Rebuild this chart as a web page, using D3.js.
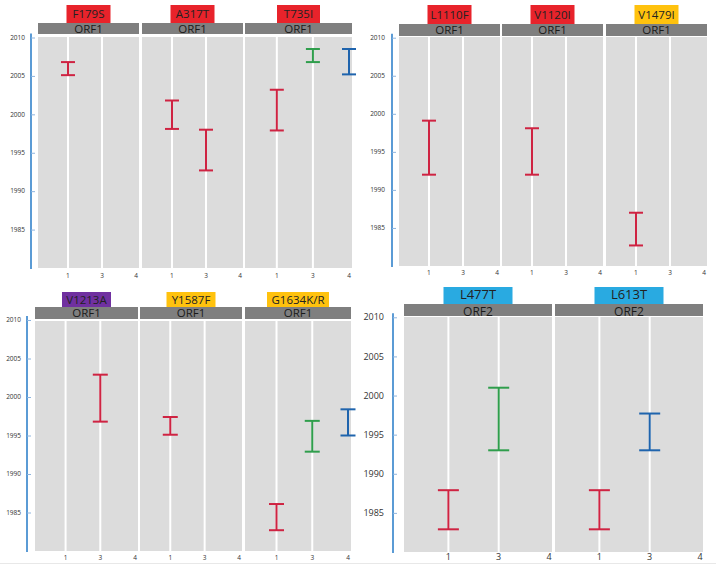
<!DOCTYPE html>
<html><head><meta charset="utf-8">
<script src="https://cdn.jsdelivr.net/npm/d3@7"></script>
<style>html,body{margin:0;padding:0;background:#fff;}svg{display:block;font-family:"Open Sans","Liberation Sans",sans-serif;}</style>
</head><body>
<svg id="chart" width="716" height="568"></svg>
<script>
// ---- data ----
const categories = ["1", "3", "4"];
const yTicks = [1985, 1990, 1995, 2000, 2005, 2010];
const yDomain = [1980, 2010];
const mutations = ["F179S", "A317T", "T735I", "L1110F", "V1120I", "V1479I", "V1213A", "Y1587F", "G1634K/R", "L477T", "L613T"];
const orfs = ["ORF1", "ORF1", "ORF1", "ORF1", "ORF1", "ORF1", "ORF1", "ORF1", "ORF1", "ORF2", "ORF2"];
const badgeKinds = ["red", "red", "red", "red", "red", "yellow", "purple", "yellow", "yellow", "blue", "blue"];
const panelGroups = [["F179S", "A317T", "T735I"], ["L1110F", "V1120I", "V1479I"], ["V1213A", "Y1587F", "G1634K/R"], ["L477T", "L613T"]];
// intervals: mutation, category, series, low, high (years)
const intMutation = ["F179S", "A317T", "A317T", "T735I", "T735I", "T735I", "L1110F", "V1120I", "V1479I", "V1213A", "Y1587F", "G1634K/R", "G1634K/R", "G1634K/R", "L477T", "L477T", "L613T", "L613T"];
const intCategory = ["1", "1", "3", "1", "3", "4", "1", "1", "1", "3", "1", "1", "3", "4", "1", "3", "1", "3"];
const intSeries = ["a", "a", "a", "a", "b", "c", "a", "a", "a", "a", "a", "a", "b", "c", "a", "b", "a", "c"];
const intLow = [2005.1, 1998.1, 1992.7, 1997.9, 2006.8, 2005.2, 1992.0, 1992.0, 1982.7, 1996.8, 1995.1, 1982.7, 1992.9, 1995.0, 1982.9, 1993.0, 1982.9, 1993.0];
const intHigh = [2006.8, 2001.8, 1998.0, 2003.2, 2008.5, 2008.5, 1999.1, 1998.1, 1987.0, 2002.9, 1997.4, 1986.1, 1996.9, 1998.4, 1987.9, 2001.0, 1987.9, 1997.7];

// ---- styles / layout ----
const badgeFill = {red: "#e8232b", yellow: "#ffc20e", purple: "#7030a0", blue: "#29aae1"};
const seriesColor = d3.scaleOrdinal().domain(["a", "b", "c"]).range(["#cf2342", "#2f9e4c", "#1f64ad"]);
const layouts = [
  {axisX: 31, lblX: 25, panels: [[38, 139], [142, 243], [245, 352]], badge: [5, 23], header: [23, 34], plot: [37, 268], yTop: 37.5, xLblY: 278, tickFont: 6.5, headFont: 11.5, badgeFont: 11.5, badgeW: [44, 44, 43], cap: 14, bNudge: 0, hNudge: 0},
  {axisX: 392, lblX: 385, panels: [[399, 500], [502, 603], [606, 707]], badge: [5, 24], header: [24, 36], plot: [37, 266], yTop: 37.7, xLblY: 275, tickFont: 6.5, headFont: 11.5, badgeFont: 11.5, badgeW: [44, 44, 44], cap: 14, bNudge: 0, hNudge: 0},
  {axisX: 27, lblX: 21, panels: [[35, 138], [140, 242], [245, 351]], badge: [292, 307], header: [307, 319], plot: [321, 551], yTop: 320, xLblY: 560, tickFont: 6.5, headFont: 11.5, badgeFont: 11.5, badgeW: [49, 49, 62], cap: 15, bNudge: 0, hNudge: 0},
  {axisX: 393, lblX: 384, panels: [[404, 552], [555, 703]], badge: [287, 304], header: [304, 316], plot: [317, 552], yTop: 317.3, xLblY: 560, tickFont: 9, headFont: 12, badgeFont: 13, badgeW: [69, 69], cap: 21, bNudge: -1.2, hNudge: 1.2}
];

const svg = d3.select("#chart");
svg.append("line").attr("x1", 0).attr("x2", 716).attr("y1", 563.5).attr("y2", 563.5).attr("stroke", "#e8e8e8");

panelGroups.forEach((group, gi) => {
  const L = layouts[gi];
  const g = svg.append("g");
  const y = d3.scaleLinear().domain(yDomain).range([L.plot[1], L.yTop]);

  // y axis
  g.append("line").attr("x1", L.axisX).attr("x2", L.axisX).attr("y1", L.yTop - 4).attr("y2", L.plot[1] + 1)
    .attr("stroke", "#5b9bd5").attr("stroke-width", 2);
  const yAxis = d3.axisRight(y).tickValues(yTicks).tickSize(4).tickFormat("");
  const ya = g.append("g").attr("transform", `translate(${L.axisX},0)`).call(yAxis);
  ya.select(".domain").remove();
  ya.selectAll(".tick line").attr("stroke", "#8db4de");
  g.selectAll("text.ylbl").data(yTicks).join("text").attr("class", "ylbl")
    .attr("x", L.lblX).attr("y", d => y(d)).attr("dy", "0.35em").attr("text-anchor", "end")
    .attr("font-size", L.tickFont).attr("fill", "#333").text(d => d);

  group.forEach((mut, pi) => {
    const [x0, x1] = L.panels[pi];
    const w = x1 - x0;
    const x = d3.scalePoint().domain(["", ...categories]).range([x0 - 0.04 * w, x1 - 3]);
    const mi = mutations.indexOf(mut);
    // panel bg
    g.append("rect").attr("x", x0).attr("y", L.plot[0]).attr("width", w).attr("height", L.plot[1] - L.plot[0]).attr("fill", "#dcdcdc");
    // white grid lines
    g.selectAll(null).data(categories.slice(0, 2)).join("line")
      .attr("x1", d => x(d)).attr("x2", d => x(d)).attr("y1", L.plot[0]).attr("y2", L.plot[1])
      .attr("stroke", "#fff").attr("stroke-width", 2);
    // header
    g.append("rect").attr("x", x0).attr("y", L.header[0]).attr("width", w).attr("height", L.header[1] - L.header[0]).attr("fill", "#7f7f7f");
    g.append("text").attr("x", (x0 + x1) / 2).attr("y", (L.header[0] + L.header[1]) / 2 + L.hNudge).attr("dy", "0.36em")
      .attr("text-anchor", "middle").attr("font-size", L.headFont).attr("fill", "#1a1a1a").text(orfs[mi]);
    // badge
    const bw = L.badgeW[pi];
    g.append("rect").attr("x", (x0 + x1) / 2 - bw / 2).attr("y", L.badge[0]).attr("width", bw).attr("height", L.badge[1] - L.badge[0])
      .attr("fill", badgeFill[badgeKinds[mi]]);
    g.append("text").attr("x", (x0 + x1) / 2).attr("y", (L.badge[0] + L.badge[1]) / 2 + L.bNudge).attr("dy", "0.36em")
      .attr("text-anchor", "middle").attr("font-size", L.badgeFont).attr("fill", "#222").text(mut);
    // x tick labels
    g.selectAll(null).data(categories).join("text")
      .attr("x", d => x(d)).attr("y", L.xLblY).attr("text-anchor", "middle")
      .attr("font-size", L.tickFont).attr("fill", "#333").text(d => d);
    // error bars
    const idx = d3.range(intMutation.length).filter(i => intMutation[i] === mut);
    idx.forEach(i => {
      const cx = x(intCategory[i]);
      const col = seriesColor(intSeries[i]);
      const eb = g.append("g").attr("stroke", col).attr("stroke-width", 2).attr("fill", "none");
      eb.append("line").attr("x1", cx).attr("x2", cx).attr("y1", y(intLow[i])).attr("y2", y(intHigh[i]));
      eb.append("line").attr("x1", cx - L.cap / 2).attr("x2", cx + L.cap / 2).attr("y1", y(intLow[i])).attr("y2", y(intLow[i]));
      eb.append("line").attr("x1", cx - L.cap / 2).attr("x2", cx + L.cap / 2).attr("y1", y(intHigh[i])).attr("y2", y(intHigh[i]));
    });
  });
});
</script>
</body></html>
